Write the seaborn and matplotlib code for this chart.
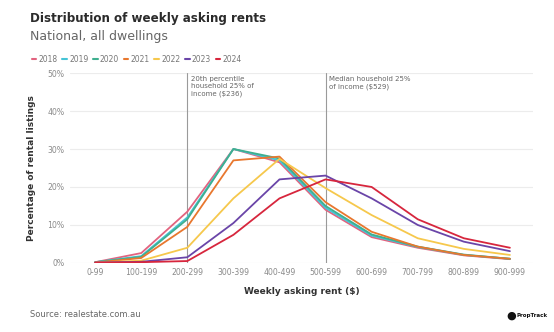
import matplotlib
matplotlib.use("Agg")
import matplotlib.pyplot as plt
import seaborn as sns
import pandas as pd
import numpy as np

categories = ['0-99', '100-199', '200-299', '300-399', '400-499',
              '500-599', '600-699', '700-799', '800-899', '900-999']
years = ['2018', '2019', '2020', '2021', '2022', '2023', '2024']
v2018 = [0.2, 2.6, 13.5, 30.0, 26.5, 14.0, 6.8, 4.0, 2.0, 1.0]
v2019 = [0.2, 1.8, 12.0, 30.0, 27.0, 14.5, 7.2, 4.2, 2.1, 1.1]
v2020 = [0.2, 1.6, 11.5, 30.0, 27.5, 15.0, 7.5, 4.3, 2.2, 1.1]
v2021 = [0.1, 1.3, 9.5, 27.0, 28.0, 16.0, 8.2, 4.3, 2.1, 1.1]
v2022 = [0.1, 0.6, 4.0, 17.0, 27.4, 19.7, 12.6, 6.5, 3.7, 2.1]
v2023 = [0.1, 0.3, 1.5, 10.5, 22.0, 23.0, 17.0, 10.0, 5.6, 3.1]
v2024 = [0.1, 0.2, 0.5, 7.4, 17.0, 22.0, 20.0, 11.5, 6.5, 4.0]
colors = ['#E2637F', '#45C4D6', '#3FAF8F', '#E8772E', '#F6C84C', '#6A45A8', '#D7263D']
yticks = [0, 10, 20, 30, 40, 50]
ytick_labels = ['0%', '10%', '20%', '30%', '40%', '50%']
ref_lines = [2, 5]
ref_texts = ['20th percentile\nhousehold 25% of\nincome ($236)',
             'Median household 25%\nof income ($529)']

series = [v2018, v2019, v2020, v2021, v2022, v2023, v2024]
rows = []
for y, vals in zip(years, series):
    for i, (c, v) in enumerate(zip(categories, vals)):
        rows.append({'year': y, 'pos': i, 'cat': c, 'pct': v})
df = pd.DataFrame(rows)

sns.set_theme(style='white')
plt.rcParams['font.family'] = ['DejaVu Sans']

fig = plt.figure(figsize=(5.54, 3.32), dpi=100)
ax = fig.add_axes([0.126, 0.208, 0.836, 0.572])

grey = '#8a8a8a'
for t in yticks:
    ax.axhline(t, color='#ececec', lw=0.8, zorder=0)
for xl in ref_lines:
    ax.axvline(xl, color='#9a9a9a', lw=0.8, zorder=1)

sns.lineplot(data=df, x='pos', y='pct', hue='year', palette=colors,
             linewidth=1.3, ax=ax, legend=False, zorder=3)

ax.set_xlim(-0.55, 9.5)
ax.set_ylim(0, 50)
ax.set_xticks(range(len(categories)))
ax.set_xticklabels(categories, fontsize=5.6, color=grey)
ax.set_yticks(yticks)
ax.set_yticklabels(ytick_labels, fontsize=5.6, color=grey)
ax.tick_params(axis='both', length=0, pad=4)
for s in ax.spines.values():
    s.set_visible(False)
ax.set_xlabel('Weekly asking rent ($)', fontsize=6.5, fontweight='bold', color='#333333', labelpad=7)
ax.set_ylabel('Percentage of rental listings', fontsize=6.5, fontweight='bold', color='#333333', labelpad=8)

ax.text(ref_lines[0] + 0.07, 49.2, ref_texts[0], fontsize=5.0, color='#666666', va='top', ha='left', linespacing=1.25)
ax.text(ref_lines[1] + 0.07, 49.2, ref_texts[1], fontsize=5.0, color='#666666', va='top', ha='left', linespacing=1.25)

fig.text(0.054, 0.935, 'Distribution of weekly asking rents', fontsize=8.6, fontweight='bold', color='#2b2b2b', va='baseline')
fig.text(0.054, 0.88, 'National, all dwellings', fontsize=9, color='#666666', va='baseline')

from matplotlib.lines import Line2D
handles = [Line2D([0], [0], color=c, lw=1.5) for c in colors]
fig.legend(handles, years, loc='upper left', bbox_to_anchor=(0.045, 0.855), ncol=7,
           frameon=False, fontsize=5.5, handlelength=0.6, handletextpad=0.3,
           columnspacing=0.6, labelcolor='#777777')

fig.text(0.054, 0.045, 'Source: realestate.com.au', fontsize=6, color='#666666', va='baseline')
fig.text(0.922, 0.05, '\u25cf', fontsize=8, color='#111111', va='center', ha='center')
fig.text(0.933, 0.05, 'PropTrack', fontsize=4.0, color='#111111', fontweight='bold', va='center', ha='left')

fig.savefig('out.png', dpi=100)
